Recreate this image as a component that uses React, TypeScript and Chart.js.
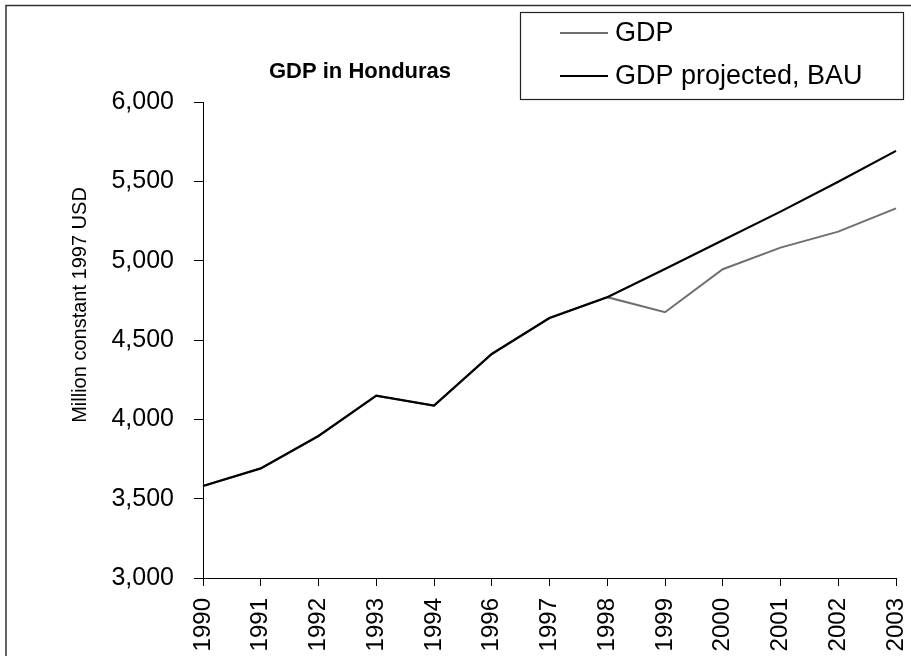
import React, { useEffect, useRef } from 'react';
import { Chart, registerables } from 'chart.js';

Chart.register(...registerables);

// Years on the category axis (1995 is not reported)
const years = ['1990', '1991', '1992', '1993', '1994', '1996', '1997', '1998', '1999', '2000', '2001', '2002', '2003'];

// Million constant 1997 USD
const gdpActual = [3580, 3691, 3895, 4149, 4086, 4412, 4639, 4770, 4675, 4946, 5082, 5183, 5330];
const gdpProjectedBAU = [3580, 3691, 3895, 4149, 4086, 4412, 4639, 4770, 4948, 5128, 5309, 5498, 5692];

const seriesLabels = ['GDP', 'GDP projected, BAU'];
const seriesColors = ['#6f6f6f', '#000000'];

const yMin = 3000;
const yMax = 6000;
const yStep = 500;

const chartTitle = 'GDP in Honduras';
const yAxisTitle = 'Million constant 1997 USD';

const FONT = '"Liberation Sans", Arial, Helvetica, sans-serif';

// Draws the outer frame, the boxed legend, the title and the rotated y-axis title
const decorations = {
  id: 'decorations',
  beforeDraw(chart: Chart) {
    const { ctx, width, height } = chart;
    ctx.save();
    ctx.fillStyle = '#ffffff';
    ctx.fillRect(0, 0, width, height);
    ctx.restore();
  },
  afterDraw(chart: Chart) {
    const { ctx, width, height, chartArea } = chart;
    ctx.save();

    // outer frame (runs off the right and bottom edges)
    ctx.strokeStyle = '#333333';
    ctx.lineWidth = 1.5;
    ctx.beginPath();
    ctx.moveTo(6, height + 2);
    ctx.lineTo(6, 5.5);
    ctx.lineTo(width + 2, 5.5);
    ctx.stroke();

    // title
    ctx.fillStyle = '#000000';
    ctx.font = `bold 22px ${FONT}`;
    ctx.textAlign = 'center';
    ctx.textBaseline = 'alphabetic';
    ctx.fillText(chartTitle, 360, 78);

    // y-axis title
    ctx.save();
    ctx.translate(chartArea.left - 117, 305);
    ctx.rotate(-Math.PI / 2);
    ctx.font = `20px ${FONT}`;
    ctx.textAlign = 'center';
    ctx.textBaseline = 'alphabetic';
    ctx.fillText(yAxisTitle, 0, 0);
    ctx.restore();

    // legend box
    const bx = 520.5;
    const by = 12.5;
    const bw = 383;
    const bh = 87;
    ctx.fillStyle = '#ffffff';
    ctx.fillRect(bx, by, bw, bh);
    ctx.strokeStyle = '#222222';
    ctx.lineWidth = 1.2;
    ctx.strokeRect(bx, by, bw, bh);

    const rowY = [33, 76];
    ctx.font = `27px ${FONT}`;
    ctx.textAlign = 'left';
    ctx.textBaseline = 'middle';
    seriesLabels.forEach((label, i) => {
      ctx.strokeStyle = seriesColors[i];
      ctx.lineWidth = 2;
      ctx.beginPath();
      ctx.moveTo(560, rowY[i]);
      ctx.lineTo(608, rowY[i]);
      ctx.stroke();
      ctx.fillStyle = '#000000';
      ctx.fillText(label, 615, rowY[i] + 1);
    });

    ctx.restore();
  },
};

export default function App() {
  const canvasRef = useRef<HTMLCanvasElement | null>(null);

  useEffect(() => {
    const canvas = canvasRef.current;
    if (!canvas) return;

    const chart = new Chart(canvas, {
      type: 'line',
      data: {
        labels: years,
        datasets: [
          {
            label: seriesLabels[0],
            data: gdpActual,
            borderColor: seriesColors[0],
            backgroundColor: seriesColors[0],
            borderWidth: 2,
            pointRadius: 0,
            tension: 0,
            order: 2,
          },
          {
            label: seriesLabels[1],
            data: gdpProjectedBAU,
            borderColor: seriesColors[1],
            backgroundColor: seriesColors[1],
            borderWidth: 2.2,
            pointRadius: 0,
            tension: 0,
            order: 1,
          },
        ],
      },
      options: {
        responsive: false,
        animation: false,
        events: [],
        layout: { padding: { top: 102, right: 15, left: 0, bottom: 0 } },
        plugins: {
          legend: { display: false },
          title: { display: false },
          tooltip: { enabled: false },
        },
        scales: {
          x: {
            type: 'category',
            offset: false,
            grid: { drawOnChartArea: false, drawTicks: true, tickLength: 8, color: '#000000', lineWidth: 1 },
            border: { display: true, color: '#000000', width: 1 },
            ticks: {
              autoSkip: false,
              minRotation: 90,
              maxRotation: 90,
              padding: 12,
              color: '#000000',
              font: { family: FONT, size: 24 },
            },
            afterFit: (scale: any) => {
              scale.height = 78;
              scale.paddingLeft = 0;
              scale.paddingRight = 0;
            },
          },
          y: {
            min: yMin,
            max: yMax,
            grid: { drawOnChartArea: false, drawTicks: true, tickLength: 9, color: '#000000', lineWidth: 1 },
            border: { display: true, color: '#000000', width: 1 },
            ticks: {
              stepSize: yStep,
              padding: 20,
              color: '#000000',
              font: { family: FONT, size: 25 },
              callback: (v: any) => Number(v).toLocaleString('en-US'),
            },
            afterFit: (scale: any) => {
              scale.width = 203;
            },
          },
        },
      },
      plugins: [decorations],
    });

    return () => chart.destroy();
  }, []);

  return (
    <div style={{ position: 'absolute', left: 0, top: 0, width: 911, height: 656, background: '#ffffff' }}>
      <canvas ref={canvasRef} width={911} height={656} style={{ display: 'block' }} />
    </div>
  );
}
